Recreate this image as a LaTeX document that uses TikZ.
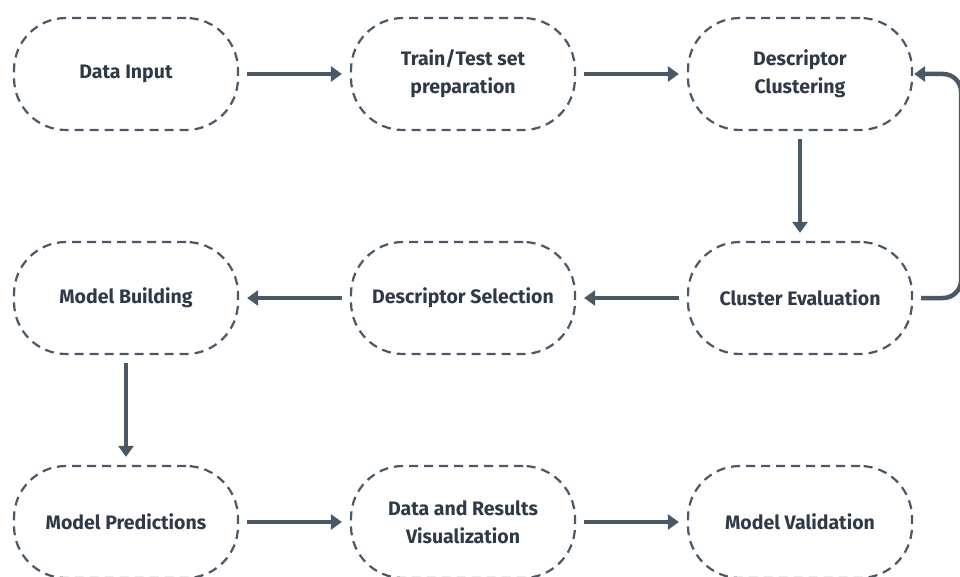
\documentclass[tikz,border=0pt]{standalone}
\usepackage{fontspec}
\setmainfont{Fira Sans}
\usetikzlibrary{arrows.meta}
\definecolor{linecol}{HTML}{4B5866}
\definecolor{textcol}{HTML}{2E3A47}

\begin{document}
\begin{tikzpicture}[x=1pt, y=-1pt,
    stage/.style={draw=linecol, line width=2.2pt, dash pattern=on 9pt off 6pt, rounded corners=52pt,
        minimum width=224pt, minimum height=112pt, align=center, text=textcol,
        font=\fontsize{19.5}{28}\selectfont\bfseries},
    flow/.style={draw=linecol, line width=4.5pt, -{Triangle[length=11pt,width=15pt]},
        shorten <=8pt, shorten >=8pt}]
    \useasboundingbox (0,0) rectangle (960,577);
    \node[stage](input) at (126,74){Data Input};
    \node[stage](split) at (463,74){Train/Test set\\preparation};
    \node[stage](clust) at (800,74){Descriptor\\Clustering};
    \node[stage](build) at (126,298){Model Building};
    \node[stage](select) at (463,298){Descriptor Selection};
    \node[stage](eval) at (800,298){Cluster Evaluation};
    \node[stage](pred) at (126,522){Model Predictions};
    \node[stage](vis) at (463,522){Data and Results\\Visualization};
    \node[stage](valid) at (800,522){Model Validation};
    \draw[flow](input)--(split);
    \draw[flow](split)--(clust);
    \draw[flow](clust)--(eval);
    \draw[flow](eval)--(select);
    \draw[flow](select)--(build);
    \draw[flow](build)--(pred);
    \draw[flow](pred)--(vis);
    \draw[flow](vis)--(valid);
    \draw[flow, rounded corners=18pt, shorten >=1pt](eval.east)--++(48,0)|-(clust.east);
\end{tikzpicture}
\end{document}
